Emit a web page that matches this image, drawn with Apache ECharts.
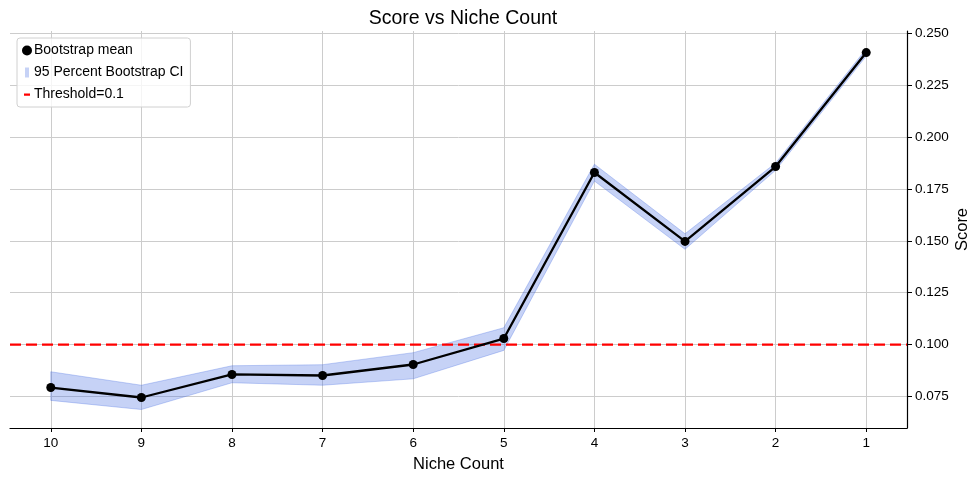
<!DOCTYPE html>
<html>
<head>
<meta charset="utf-8">
<script src="https://cdn.jsdelivr.net/npm/echarts@6/dist/echarts.min.js"></script>
<style>
  html, body { margin: 0; padding: 0; background: #fff; }
  #chart { width: 980px; height: 482px; }
</style>
</head>
<body>
<div id="chart"></div>
<script>
// niche counts shown left to right, plotted at positions 0..9
const nicheCounts = [10, 9, 8, 7, 6, 5, 4, 3, 2, 1];
const meanScore = [0.0793, 0.0745, 0.0856, 0.0851, 0.0904, 0.1029, 0.1829, 0.1497, 0.1858, 0.2407];
const ciLower = [0.0731, 0.0687, 0.0816, 0.0804, 0.0835, 0.0972, 0.1788, 0.1459, 0.1840, 0.2390];
const ciUpper = [0.0869, 0.0804, 0.0898, 0.0903, 0.0961, 0.1081, 0.1869, 0.1534, 0.1875, 0.2425];
const threshold = 0.1;
const yTicks = [0.075, 0.100, 0.125, 0.150, 0.175, 0.200, 0.225, 0.250];

const positions = nicheCounts.map((_, i) => i);
const font = '"Liberation Sans", Arial, sans-serif';

const chart = echarts.init(document.getElementById('chart'), null, { renderer: 'canvas' });

const bandData = positions.map((x, i) => [x, ciLower[i], ciUpper[i]]);
const meanData = positions.map((x, i) => [x, meanScore[i]]);
const xMin = -0.45, xMax = positions.length - 1 + 0.45;

chart.setOption({
  animation: false,
  textStyle: { fontFamily: font },
  title: {
    text: 'Score vs Niche Count',
    left: 458, top: 4, textAlign: 'center',
    textStyle: { fontSize: 19.5, fontWeight: 'normal', color: '#000', fontFamily: font }
  },
  legend: {
    orient: 'vertical',
    left: 17, top: 38,
    padding: [5, 7, 5, 5],
    itemGap: 7,
    itemWidth: 10, itemHeight: 10,
    borderColor: '#d0d0d0', borderWidth: 1, borderRadius: 3,
    backgroundColor: 'rgba(255,255,255,0.8)',
    textStyle: { fontSize: 14, lineHeight: 15, color: '#000', fontFamily: font, padding: [0, 0, 0, -3] },
    data: [
      { name: 'Bootstrap mean', icon: 'circle' },
      { name: '95 Percent Bootstrap CI', icon: 'path://M0,0L0.01,0L0.01,0.01Z M3,0L7,0L7,10L3,10Z M10,10L9.99,10L9.99,9.99Z' },
      { name: 'Threshold=0.1', icon: 'path://M0,0L0.01,0L0.01,0.01Z M2,4L8,4L8,6.2L2,6.2Z M10,10L9.99,10L9.99,9.99Z' }
    ]
  },
  grid: { left: 10, right: 73, top: 31, bottom: 54, containLabel: false, outerBoundsMode: 'none' },
  xAxis: {
    type: 'value',
    min: xMin, max: xMax,
    name: 'Niche Count', nameLocation: 'middle', nameGap: 28,
    nameTextStyle: { fontSize: 16.5, color: '#000', fontFamily: font },
    axisLine: { show: true, onZero: false, lineStyle: { color: '#000', width: 1.2 } },
    axisTick: { show: true, length: 4, customValues: positions, lineStyle: { color: '#000' } },
    axisLabel: {
      customValues: positions,
      fontSize: 13.5, color: '#000', margin: 8,
      formatter: v => String(nicheCounts[Math.round(v)])
    },
    splitLine: { show: true, lineStyle: { color: '#cccccc', width: 1 } }
  },
  yAxis: {
    type: 'value',
    position: 'right',
    min: 0.0598, max: 0.2511,
    name: 'Score', nameLocation: 'middle', nameGap: 47, nameRotate: 90,
    nameMoveOverlap: false,
    nameTextStyle: { fontSize: 16.5, color: '#000', fontFamily: font },
    axisLine: { show: true, onZero: false, lineStyle: { color: '#000', width: 1.2 } },
    axisTick: { show: true, length: 5, customValues: yTicks, lineStyle: { color: '#000' } },
    axisLabel: {
      customValues: yTicks,
      fontSize: 13.5, color: '#000', margin: 8,
      formatter: v => v.toFixed(3)
    },
    splitLine: { show: true, lineStyle: { color: '#cccccc', width: 1 } }
  },
  series: [
    {
      name: '95 Percent Bootstrap CI',
      type: 'custom',
      itemStyle: { color: 'rgba(65,105,225,0.3)' },
      data: bandData,
      encode: { x: 0, y: [1, 2] },
      z: 2,
      renderItem: (params, api) => {
        if (params.dataIndex !== 0) return null;
        const upper = bandData.map(d => api.coord([d[0], d[2]]));
        const lower = bandData.map(d => api.coord([d[0], d[1]])).reverse();
        return {
          type: 'polygon',
          shape: { points: upper.concat(lower) },
          style: { fill: 'rgba(65,105,225,0.3)', stroke: 'rgba(65,105,225,0.3)', lineWidth: 1 }
        };
      }
    },
    {
      name: 'Threshold=0.1',
      type: 'line',
      data: [[xMin, threshold], [xMax, threshold]],
      symbol: 'none',
      itemStyle: { color: '#ff0000' },
      lineStyle: { color: '#ff0000', width: 2.2, type: [11, 5] },
      z: 3
    },
    {
      name: 'Bootstrap mean',
      type: 'line',
      data: meanData,
      symbol: 'circle',
      symbolSize: 9,
      itemStyle: { color: '#000' },
      lineStyle: { color: '#000', width: 2.3 },
      z: 4
    }
  ]
});
</script>
</body>
</html>
